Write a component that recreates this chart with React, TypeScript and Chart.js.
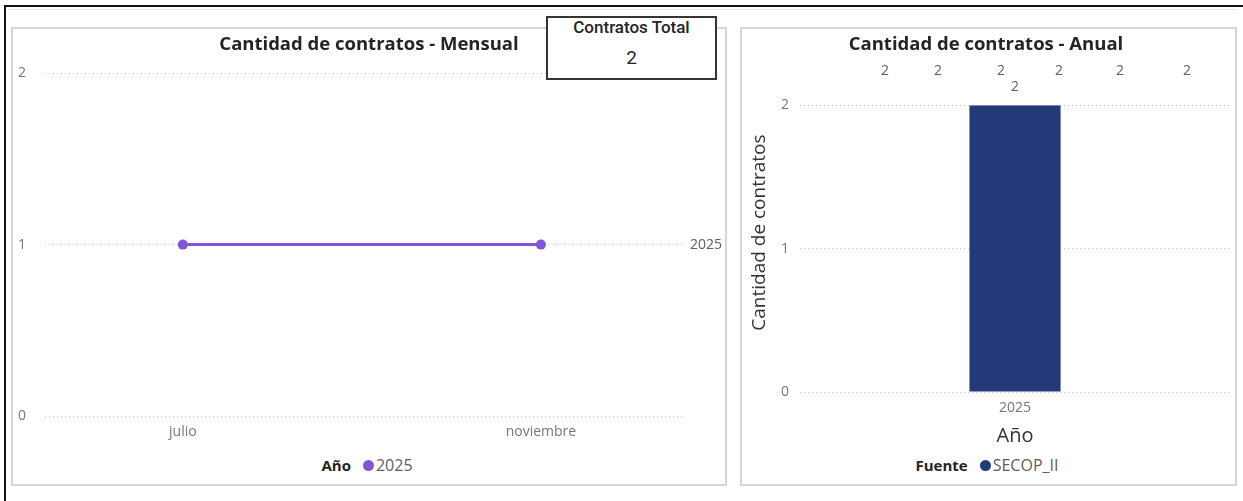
import React, { useEffect, useRef } from 'react';
import { Chart, registerables } from 'chart.js';
Chart.register(...registerables);

// ---- data ----
const monthLabels = ['julio', 'noviembre'];
const monthNumbers = [7, 11];
const monthlySeriesName = '2025';
const monthlyValues = [1, 1];

const yearLabels = ['2025'];
const annualSeriesName = 'SECOP_II';
const annualValues = [2];

const totalContracts = annualValues.reduce((a, b) => a + b, 0);
const overlapLabelCount = 6;
const yAxisTitle = 'Cantidad de contratos';

// ---- style ----
const FONT = "'Open Sans', 'Segoe UI', sans-serif";
const PURPLE = '#7F56D7';
const NAVY = '#243A78';
const GRID = '#C8C6C4';
const TICK = '#777777';
const DARK = '#252423';
const LABEL = '#605E5C';

Chart.defaults.font.family = FONT;

const endLabelPlugin = {
  id: 'endLabel',
  afterDatasetsDraw(chart: any) {
    const { ctx, chartArea } = chart;
    chart.data.datasets.forEach((ds: any, i: number) => {
      const meta = chart.getDatasetMeta(i);
      const last = meta.data[meta.data.length - 1];
      if (!last) return;
      ctx.save();
      ctx.font = `14px ${FONT}`;
      ctx.fillStyle = LABEL;
      ctx.textAlign = 'left';
      ctx.textBaseline = 'middle';
      ctx.fillText(ds.label, chartArea.right + 5, last.y);
      ctx.restore();
    });
  },
};

const barLabelPlugin = {
  id: 'barLabel',
  afterDatasetsDraw(chart: any) {
    const { ctx, chartArea } = chart;
    const meta = chart.getDatasetMeta(0);
    meta.data.forEach((el: any, i: number) => {
      ctx.save();
      ctx.font = `14px ${FONT}`;
      ctx.fillStyle = LABEL;
      ctx.textAlign = 'center';
      ctx.textBaseline = 'middle';
      ctx.fillText(String(chart.data.datasets[0].data[i]), el.x, el.y - 18);
      ctx.restore();
    });
    // y axis title (Power BI places it slightly above the plot centre)
    ctx.save();
    ctx.font = `19px ${FONT}`;
    ctx.fillStyle = '#333333';
    ctx.textAlign = 'center';
    ctx.textBaseline = 'middle';
    ctx.translate(18, (chartArea.top + chartArea.bottom) / 2 - 16);
    ctx.rotate(-Math.PI / 2);
    ctx.fillText(yAxisTitle, 0, 0);
    ctx.restore();
  },
};

function MonthlyChart() {
  const ref = useRef<HTMLCanvasElement>(null);
  useEffect(() => {
    const chart = new Chart(ref.current!, {
      type: 'line',
      data: {
        datasets: [
          {
            label: monthlySeriesName,
            data: monthNumbers.map((m, i) => ({ x: m, y: monthlyValues[i] })),
            borderColor: PURPLE,
            backgroundColor: PURPLE,
            borderWidth: 3,
            pointRadius: 5,
            pointBorderWidth: 0,
            pointBackgroundColor: PURPLE,
          },
        ],
      },
      options: {
        responsive: false,
        animation: false,
        layout: { padding: 0 },
        plugins: {
          legend: { display: false },
          tooltip: { enabled: false },
          title: {
            display: true,
            text: 'Cantidad de contratos - Mensual',
            color: DARK,
            font: { family: FONT, size: 18.5, weight: 'bold' },
            padding: { top: 4, bottom: 17 },
          },
        },
        scales: {
          x: {
            type: 'linear',
            min: 5.46,
            max: 12.61,
            grid: { display: false, drawTicks: false },
            border: { display: false },
            afterBuildTicks: (s: any) => {
              s.ticks = monthNumbers.map((v) => ({ value: v }));
            },
            ticks: {
              autoSkip: false,
              maxRotation: 0,
              padding: 8,
              color: TICK,
              font: { size: 14 },
              callback: (v: any) => {
                const i = monthNumbers.indexOf(Number(v));
                return i >= 0 ? monthLabels[i] : '';
              },
            },
            afterFit: (s: any) => {
              s.height = 30;
            },
          },
          y: {
            min: 0,
            max: 2,
            ticks: { stepSize: 1, padding: 19, color: TICK, font: { size: 14 } },
            grid: { color: GRID, drawTicks: false, lineWidth: 1 },
            border: { display: false, dash: [1, 3] },
            afterFit: (s: any) => {
              s.width = 32;
            },
          },
          yr: {
            position: 'right',
            display: true,
            grid: { display: false, drawTicks: false },
            border: { display: false },
            ticks: { display: false },
            afterFit: (s: any) => {
              s.width = 40;
            },
          },
        },
      } as any,
      plugins: [endLabelPlugin],
    });
    return () => chart.destroy();
  }, []);
  return <canvas ref={ref} width={712} height={416} style={{ position: 'absolute', left: 13, top: 30 }} />;
}

function AnnualChart() {
  const ref = useRef<HTMLCanvasElement>(null);
  useEffect(() => {
    const chart = new Chart(ref.current!, {
      type: 'bar',
      data: {
        labels: yearLabels,
        datasets: [
          {
            label: annualSeriesName,
            data: annualValues,
            backgroundColor: NAVY,
            barPercentage: 0.212,
            categoryPercentage: 1,
          },
        ],
      },
      options: {
        responsive: false,
        animation: false,
        layout: { padding: { right: 5 } },
        plugins: {
          legend: { display: false },
          tooltip: { enabled: false },
          title: {
            display: true,
            text: 'Cantidad de contratos - Anual',
            color: DARK,
            font: { family: FONT, size: 18.5, weight: 'bold' },
            padding: { top: 4, bottom: 49 },
          },
        },
        scales: {
          x: {
            grid: { display: false, drawTicks: false },
            border: { display: false },
            ticks: { color: TICK, font: { size: 14 }, padding: 8 },
            title: {
              display: true,
              text: 'Año',
              color: '#333333',
              font: { size: 20 },
              padding: { top: 0, bottom: 2 },
            },
            afterFit: (s: any) => {
              s.height = 58;
            },
          },
          y: {
            min: 0,
            max: 2,
            ticks: { stepSize: 1, padding: 11, color: TICK, font: { size: 14 } },
            grid: { color: GRID, drawTicks: false },
            border: { display: false, dash: [1, 3] },
            title: { display: false, text: yAxisTitle },
            afterFit: (s: any) => {
              s.width = 58;
            },
          },
        },
      } as any,
      plugins: [barLabelPlugin],
    });
    return () => chart.destroy();
  }, []);
  return <canvas ref={ref} width={493} height={420} style={{ position: 'absolute', left: 742, top: 30 }} />;
}

const overlapXs = [885, 938, 1001, 1059, 1120, 1187];

export default function App() {
  const legendItem = (title: string, color: string, name: string) => (
    <>
      <span style={{ fontWeight: 700, color: DARK, marginRight: 12, fontSize: 15 }}>{title}</span>
      <span style={{ width: 11, height: 11, borderRadius: '50%', background: color, display: 'inline-block', marginRight: 2 }} />
      <span style={{ color: LABEL, fontSize: 16 }}>{name}</span>
    </>
  );
  return (
    <div style={{ position: 'fixed', left: 0, top: 0, width: 1243, height: 501, background: '#fff', fontFamily: FONT, overflow: 'hidden' }}>
      {/* outer frame */}
      <div style={{ position: 'absolute', left: 5, top: 5, width: 1238, height: 2, background: '#111' }} />
      <div style={{ position: 'absolute', left: 4, top: 5, width: 2, height: 496, background: '#111' }} />
      <div style={{ position: 'absolute', left: 8, top: 9, width: 1229, height: 1, background: '#e6e6e6' }} />
      {/* panels */}
      <div style={{ position: 'absolute', left: 11, top: 27, width: 716, height: 459, border: '2px solid #d6d6d6', boxSizing: 'border-box' }} />
      <div style={{ position: 'absolute', left: 740, top: 27, width: 497, height: 459, border: '2px solid #d6d6d6', boxSizing: 'border-box' }} />

      <MonthlyChart />
      <AnnualChart />

      {/* annual overlapping data labels */}
      {overlapXs.slice(0, overlapLabelCount).map((x, i) => (
        <span key={i} style={{ position: 'absolute', left: x, top: 70, transform: 'translate(-50%, -50%)', fontSize: 14, color: LABEL, lineHeight: '16px' }}>
          {totalContracts}
        </span>
      ))}

      {/* legends */}
      <div style={{ position: 'absolute', left: 11, width: 712, top: 454, height: 22, display: 'flex', justifyContent: 'center', alignItems: 'center' }}>
        {legendItem('Año', PURPLE, monthlySeriesName)}
      </div>
      <div style={{ position: 'absolute', left: 742, width: 490, top: 454, height: 22, display: 'flex', justifyContent: 'center', alignItems: 'center' }}>
        {legendItem('Fuente', NAVY, annualSeriesName)}
      </div>

      {/* card */}
      <div style={{ position: 'absolute', left: 546, top: 16, width: 171, height: 64, border: '2px solid #333', boxSizing: 'border-box', background: '#fff', textAlign: 'center', fontFamily: "Roboto, 'Open Sans', sans-serif" }}>
        <div style={{ position: 'absolute', left: 0, right: 0, top: -2, fontSize: 17, fontWeight: 500, color: DARK, lineHeight: '22px' }}>Contratos Total</div>
        <div style={{ position: 'absolute', left: 0, right: 0, top: 29, fontSize: 19, color: DARK, lineHeight: '22px' }}>{totalContracts}</div>
      </div>
    </div>
  );
}
